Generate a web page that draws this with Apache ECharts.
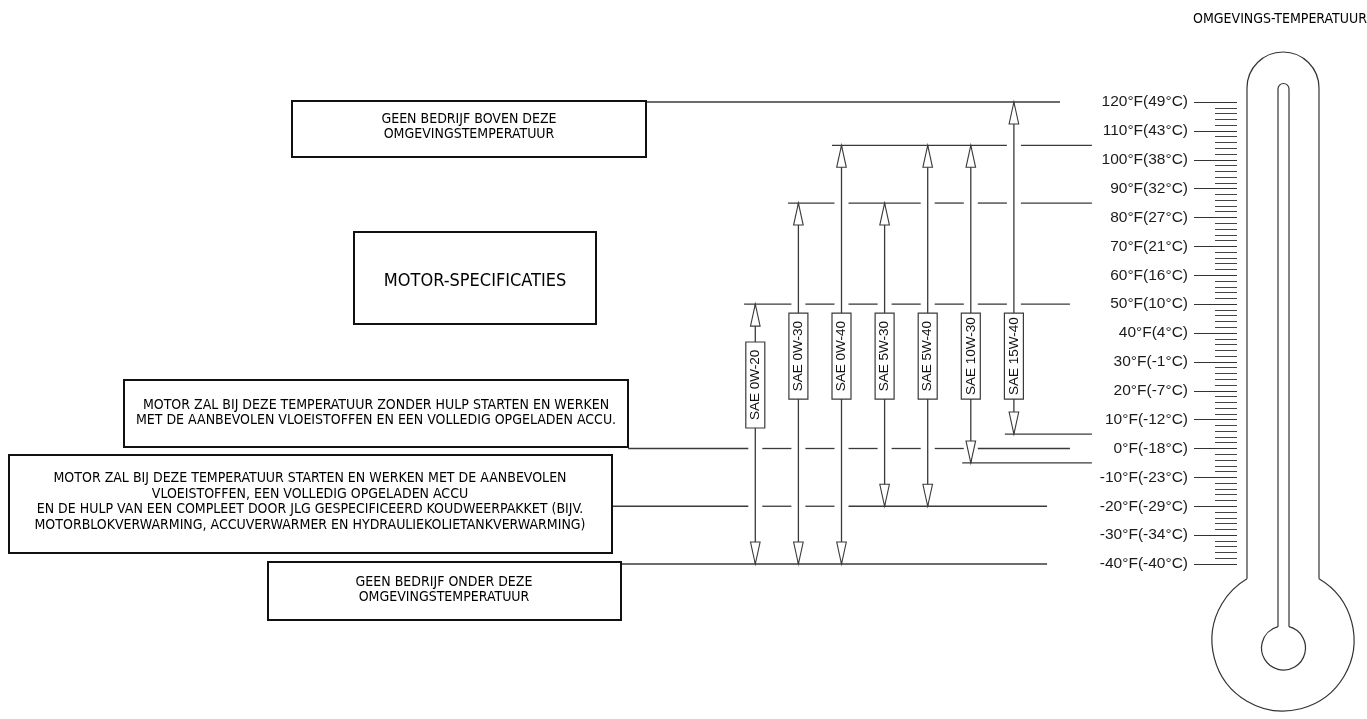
<!DOCTYPE html>
<html><head><meta charset="utf-8">
<script src="https://cdn.jsdelivr.net/npm/echarts@6/dist/echarts.min.js"></script>
<style>html,body{margin:0;padding:0;background:#fff}#c{width:1367px;height:719px}</style>
</head><body><div id="c"></div>
<script>
// ---------------- DATA ----------------
const grades = ['SAE 0W-20','SAE 0W-30','SAE 0W-40','SAE 5W-30','SAE 5W-40','SAE 10W-30','SAE 15W-40'];
const maxTempF = [50, 85, 105, 85, 105, 105, 120];
const minTempF = [-40, -40, -40, -20, -20, -5, 5];
const refTempF = [120, 105, 85, 50, 5, 0, -5, -20, -40];
const tickTempF = [-40,-30,-20,-10,0,10,20,30,40,50,60,70,80,90,100,110,120];
const tickLabels = ['-40°F(-40°C)','-30°F(-34°C)','-20°F(-29°C)','-10°F(-23°C)','0°F(-18°C)','10°F(-12°C)','20°F(-7°C)','30°F(-1°C)','40°F(4°C)','50°F(10°C)','60°F(16°C)','70°F(21°C)','80°F(27°C)','90°F(32°C)','100°F(38°C)','110°F(43°C)','120°F(49°C)'];
const titleText = 'OMGEVINGS-TEMPERATUUR';
const noteAbove = 'GEEN BEDRIJF BOVEN DEZE\nOMGEVINGSTEMPERATUUR';
const noteSpec = 'MOTOR-SPECIFICATIES';
const noteUnaided = 'MOTOR ZAL BIJ DEZE TEMPERATUUR ZONDER HULP STARTEN EN WERKEN\nMET DE AANBEVOLEN VLOEISTOFFEN EN EEN VOLLEDIG OPGELADEN ACCU.';
const noteAided = 'MOTOR ZAL BIJ DEZE TEMPERATUUR STARTEN EN WERKEN MET DE AANBEVOLEN\nVLOEISTOFFEN, EEN VOLLEDIG OPGELADEN ACCU\nEN DE HULP VAN EEN COMPLEET DOOR JLG GESPECIFICEERD KOUDWEERPAKKET (BIJV.\nMOTORBLOKVERWARMING, ACCUVERWARMER EN HYDRAULIEKOLIETANKVERWARMING)';
const noteBelow = 'GEEN BEDRIJF ONDER DEZE\nOMGEVINGSTEMPERATUUR';

// ---------------- LAYOUT ----------------
const W = 1367;
const COL0 = 755.3, COLW = 43.1;            // pixel of first grade column, column spacing
const GRID_TOP = 102, GRID_H = 462;
// horizontal extent of each reference line, in grade-column units
const refExtent = [[-2.55,7.07],[1.78,7.81],[0.76,7.81],[-0.26,7.30],[5.79,7.81],[-2.95,7.30],[4.80,7.81],[-3.32,6.77],[-3.12,6.77]];
const labelCenterF = [22, 32, 32, 32, 32, 32, 32];
const LINE_COLOR = '#3a3a3a';
const NARROW = "'Liberation Sans Narrow','DejaVu Sans Condensed',sans-serif";
const SANS = "'Liberation Sans',Arial,sans-serif";
const GAP = 7, ARROW_L = 22, ARROW_HW = 4.8, BOX_W = 19, BOX_H = 86;

const chart = echarts.init(document.getElementById('c'), null, {renderer: 'canvas'});

function refLineItem(params, api) {
  const i = api.value(0), t = api.value(1);
  const ext = refExtent[i];
  const x0 = api.coord([ext[0], t])[0], x1 = api.coord([ext[1], t])[0];
  const y = api.coord([0, t])[1];
  const cuts = [];
  for (let g = 0; g < grades.length; g++) {
    if (minTempF[g] < t && t < maxTempF[g]) {
      const xg = api.coord([g, t])[0];
      if (xg > x0 && xg < x1) cuts.push(xg);
    }
  }
  cuts.sort((a, b) => a - b);
  const children = [];
  let s = x0;
  cuts.forEach(c => {
    children.push({type: 'line', shape: {x1: s, y1: y, x2: c - GAP, y2: y}, style: {stroke: LINE_COLOR, lineWidth: 1.3}});
    s = c + GAP;
  });
  children.push({type: 'line', shape: {x1: s, y1: y, x2: x1, y2: y}, style: {stroke: LINE_COLOR, lineWidth: 1.3}});
  return {type: 'group', children};
}

function gradeItem(params, api) {
  const i = api.value(0), lo = api.value(1), hi = api.value(2);
  const x = api.coord([i, hi])[0];
  const yTop = api.coord([i, hi])[1];
  const yBot = api.coord([i, lo])[1];
  const yLab = api.coord([i, labelCenterF[i]])[1];
  const st = {stroke: LINE_COLOR, lineWidth: 1.3};
  return {type: 'group', children: [
    {type: 'line', shape: {x1: x, y1: yTop, x2: x, y2: yBot}, style: st},
    {type: 'polygon', shape: {points: [[x, yTop], [x - ARROW_HW, yTop + ARROW_L], [x + ARROW_HW, yTop + ARROW_L]]}, style: {fill: '#fff', stroke: LINE_COLOR, lineWidth: 1.1}},
    {type: 'polygon', shape: {points: [[x, yBot], [x - ARROW_HW, yBot - ARROW_L], [x + ARROW_HW, yBot - ARROW_L]]}, style: {fill: '#fff', stroke: LINE_COLOR, lineWidth: 1.1}},
    {type: 'rect', shape: {x: x - BOX_W / 2, y: yLab - BOX_H / 2, width: BOX_W, height: BOX_H}, style: {fill: '#fff', stroke: LINE_COLOR, lineWidth: 1.2}},
    {type: 'text', x: x, y: yLab, rotation: Math.PI / 2, style: {text: grades[i], fontSize: 13.5, fontFamily: SANS, fill: '#111', align: 'center', verticalAlign: 'middle'}}
  ]};
}

function box(x, y, w, h, text, cx, cy, size) {
  return [
    {type: 'rect', shape: {x, y, width: w, height: h}, style: {fill: '#fff', stroke: '#111', lineWidth: 2}, z: 10},
    {type: 'text', x: cx, y: cy, style: {text, fontSize: size, fontFamily: NARROW, fill: '#000', align: 'center', verticalAlign: 'middle', lineHeight: size + 1.5}, z: 11}
  ];
}

// thermometer outline (decoration)
const TH = {cx: 1283, wallL: 1247, wallR: 1319, topCy: 88, bulbCy: 640, bulbR: 71,
            tubeL: 1278, tubeR: 1289, tubeTopCy: 89, innerCy: 648, innerR: 22};
const thStroke = {fill: 'none', stroke: '#333', lineWidth: 1.2};
const oDy = Math.sqrt(TH.bulbR * TH.bulbR - 36 * 36);
const oA = Math.atan2(-oDy, 36);
const iHalf = (TH.tubeR - TH.tubeL) / 2;
const iCx = (TH.tubeR + TH.tubeL) / 2;
const iDy = Math.sqrt(TH.innerR * TH.innerR - iHalf * iHalf);
const iA = Math.atan2(-iDy, iHalf);
const thermo = [
  {type: 'arc', shape: {cx: TH.cx, cy: TH.topCy, r: 36, startAngle: Math.PI, endAngle: 2 * Math.PI, clockwise: true}, style: thStroke},
  {type: 'line', shape: {x1: TH.wallL, y1: TH.topCy, x2: TH.wallL, y2: TH.bulbCy - oDy}, style: thStroke},
  {type: 'line', shape: {x1: TH.wallR, y1: TH.topCy, x2: TH.wallR, y2: TH.bulbCy - oDy}, style: thStroke},
  {type: 'arc', shape: {cx: TH.cx, cy: TH.bulbCy, r: TH.bulbR, startAngle: oA, endAngle: Math.PI - oA, clockwise: true}, style: thStroke},
  {type: 'arc', shape: {cx: iCx, cy: TH.tubeTopCy, r: iHalf, startAngle: Math.PI, endAngle: 2 * Math.PI, clockwise: true}, style: thStroke},
  {type: 'line', shape: {x1: TH.tubeL, y1: TH.tubeTopCy, x2: TH.tubeL, y2: TH.innerCy - iDy}, style: thStroke},
  {type: 'line', shape: {x1: TH.tubeR, y1: TH.tubeTopCy, x2: TH.tubeR, y2: TH.innerCy - iDy}, style: thStroke},
  {type: 'arc', shape: {cx: iCx, cy: TH.innerCy, r: TH.innerR, startAngle: iA, endAngle: Math.PI - iA, clockwise: true}, style: thStroke}
];

const graphic = [].concat(
  box(292, 101, 354, 56, noteAbove, 469, 127, 14),
  box(354, 232, 242, 92, noteSpec, 475, 281, 18),
  box(124, 380, 504, 67, noteUnaided, 376, 413, 14),
  box(9, 455, 603, 98, noteAided, 310, 502, 14),
  box(268, 562, 353, 58, noteBelow, 444, 590, 14),
  [{type: 'text', x: 1280, y: 19, style: {text: titleText, fontSize: 14, fontFamily: NARROW, fill: '#000', align: 'center', verticalAlign: 'middle'}}],
  thermo
);

chart.setOption({
  animation: false,
  backgroundColor: '#fff',
  grid: [
    {left: 0, right: 0, top: GRID_TOP, height: GRID_H},
    {left: 1237, width: 20, top: GRID_TOP, height: GRID_H}
  ],
  xAxis: [
    {type: 'value', gridIndex: 0, min: -COL0 / COLW, max: (W - COL0) / COLW, show: false},
    {type: 'value', gridIndex: 1, min: 0, max: 1, show: false}
  ],
  yAxis: [
    {type: 'value', gridIndex: 0, min: -40, max: 120, show: false},
    {type: 'value', gridIndex: 1, position: 'left', min: -40, max: 120, interval: 10,
      axisLine: {show: false},
      axisTick: {show: true, length: 43, lineStyle: {color: '#333', width: 1}},
      minorTick: {show: true, splitNumber: 5, length: 22, lineStyle: {color: '#444', width: 1}},
      splitLine: {show: false}, minorSplitLine: {show: false},
      axisLabel: {margin: 49, fontSize: 15.5, fontFamily: SANS, color: '#1a1a1a',
        formatter: v => tickLabels[tickTempF.indexOf(v)] || ''}
    }
  ],
  series: [
    {type: 'custom', xAxisIndex: 0, yAxisIndex: 0, renderItem: refLineItem, clip: false, z: 2,
      data: refTempF.map((t, i) => [i, t])},
    {type: 'custom', xAxisIndex: 0, yAxisIndex: 0, renderItem: gradeItem, clip: false, z: 3,
      data: grades.map((g, i) => [i, minTempF[i], maxTempF[i]])}
  ],
  graphic
});
</script></body></html>
